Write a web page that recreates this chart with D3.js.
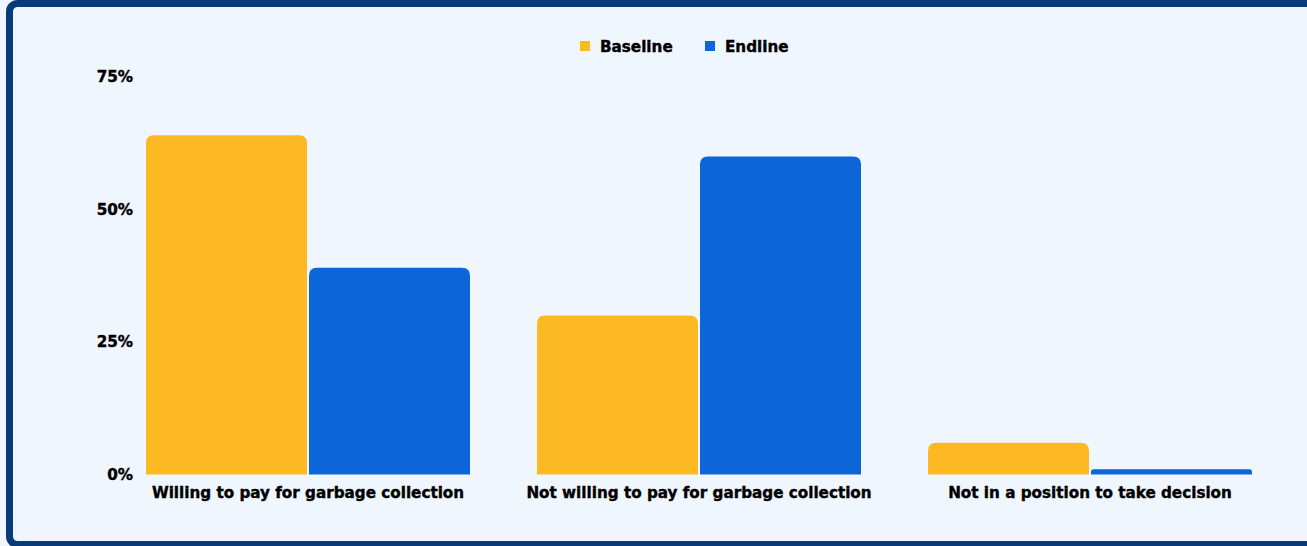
<!DOCTYPE html>
<html>
<head>
<meta charset="utf-8">
<script src="https://cdn.jsdelivr.net/npm/d3@7"></script>
<style>
  html, body { margin: 0; padding: 0; background: #f0f6fe; }
  svg { display: block; }
  text { font-family: "DejaVu Sans", Verdana, sans-serif; font-weight: 700; fill: #000; }
</style>
</head>
<body>
<svg id="chart" width="1307" height="546"></svg>
<script>
// Survey responses on paying for garbage collection
const categories = [
  "Willing to pay for garbage collection",
  "Not willing to pay for garbage collection",
  "Not in a position to take decision"
];
const seriesNames = ["Baseline", "Endline"];
const baseline = [64, 30, 6];
const endline = [39, 60, 1];
const yTicks = [0, 25, 50, 75];
const colors = { Baseline: "#fdb924", Endline: "#0d66d9" };

const FONT = "DejaVu Sans, Verdana, sans-serif";
const FS = 15.2;

const svg = d3.select("#chart");

// Framed panel
svg.append("rect")
  .attr("x", 9.5).attr("y", 3.5)
  .attr("width", 1320).attr("height", 541)
  .attr("rx", 8)
  .attr("fill", "#f0f6fe")
  .attr("stroke", "#093a7b")
  .attr("stroke-width", 7);

const x0 = d3.scaleBand()
  .domain(categories)
  .range([146, 1252])
  .paddingInner(67 / 391)
  .paddingOuter(0);

const x1 = d3.scaleBand()
  .domain(seriesNames)
  .range([0, x0.bandwidth()])
  .paddingInner(2 / 163)
  .paddingOuter(0);

const y = d3.scaleLinear().domain([0, 75]).range([474.5, 77]);

// Heavy black label style
function styleText(sel) {
  sel.attr("font-size", FS)
    .attr("font-family", FONT)
    .attr("font-weight", 700)
    .attr("fill", "#000")
    .attr("stroke", "#000")
    .attr("stroke-width", 0.4);
}

// Y axis labels
const yAxis = d3.axisLeft(y)
  .tickValues(yTicks)
  .tickFormat(d => d + "%")
  .tickSize(0)
  .tickPadding(0);
const gy = svg.append("g")
  .attr("transform", "translate(133,0)")
  .call(yAxis);
gy.select(".domain").remove();
gy.selectAll("text").call(styleText);

// Bars with rounded top corners
function topRounded(x, yTop, w, h, r) {
  r = Math.min(r, h / 2, w / 2);
  return `M${x},${yTop + h}` +
    `L${x},${yTop + r}` +
    `Q${x},${yTop} ${x + r},${yTop}` +
    `L${x + w - r},${yTop}` +
    `Q${x + w},${yTop} ${x + w},${yTop + r}` +
    `L${x + w},${yTop + h}Z`;
}

const rows = categories.map((c, i) => ({
  category: c,
  values: [
    { key: "Baseline", value: baseline[i] },
    { key: "Endline", value: endline[i] }
  ]
}));

const groups = svg.append("g").selectAll("g")
  .data(rows)
  .join("g")
  .attr("transform", d => `translate(${x0(d.category)},0)`);

groups.selectAll("path")
  .data(d => d.values)
  .join("path")
  .attr("fill", d => colors[d.key])
  .attr("d", d => {
    const top = y(d.value);
    return topRounded(x1(d.key), top, x1.bandwidth(), y(0) - top, 8);
  });

// Category labels
const xAxis = d3.axisBottom(x0).tickSize(0).tickPadding(0);
const gx = svg.append("g")
  .attr("transform", `translate(0,${y(0) + 13})`)
  .call(xAxis);
gx.select(".domain").remove();
gx.selectAll("text").call(styleText);

// Legend
const legend = svg.append("g");
const legendItems = [
  { key: "Baseline", x: 580 },
  { key: "Endline", x: 705 }
];
legendItems.forEach(it => {
  legend.append("rect")
    .attr("x", it.x).attr("y", 41)
    .attr("width", 10).attr("height", 10)
    .attr("fill", colors[it.key]);
  legend.append("text")
    .attr("x", it.x + 20).attr("y", 51.5)
    .call(styleText)
    .text(it.key);
});
</script>
</body>
</html>
